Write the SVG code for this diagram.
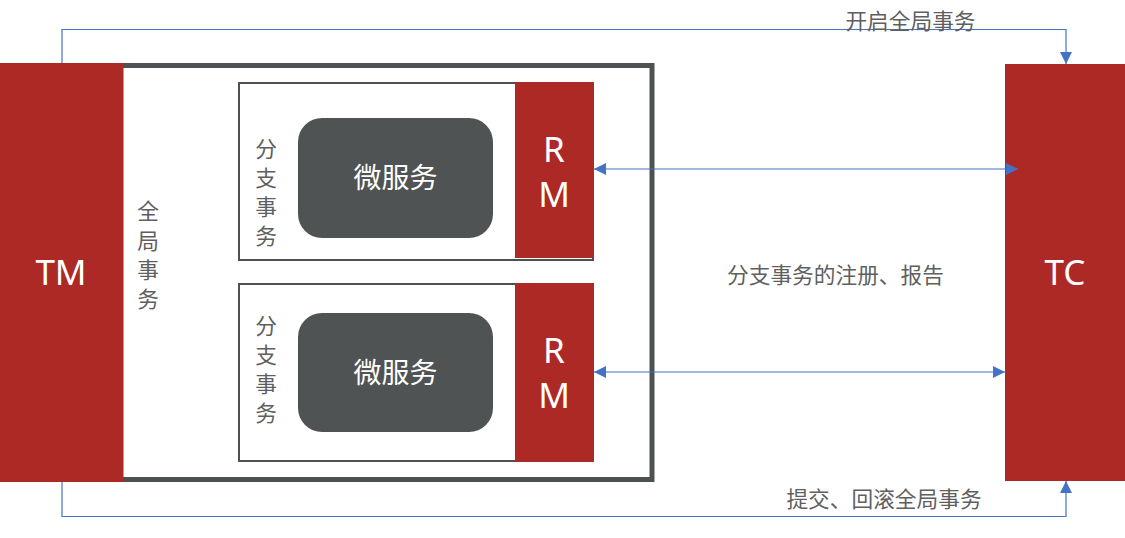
<svg xmlns="http://www.w3.org/2000/svg" width="1125" height="538" viewBox="0 0 1125 538">
<defs>
<marker id="arr" viewBox="0 0 12 12" refX="12" refY="6" markerWidth="12" markerHeight="12" markerUnits="userSpaceOnUse" orient="auto-start-reverse">
<path d="M0,0 L12,6 L0,12 z" fill="#4472C4"/>
</marker>
<style>
.red{fill:#AD2926}
.lbl{font-family:"Noto Sans","Noto Sans CJK SC",sans-serif;fill:#5F5F5F;font-size:21.7px}
.wt{font-family:"Noto Sans","Noto Sans CJK SC",sans-serif;fill:#ffffff}
.box{fill:#ffffff;stroke:#4D5152;stroke-width:2}
.ms{fill:#4F5354}
.conn{fill:none;stroke:#4472C4;stroke-width:1.2}
</style>
</defs>
<rect width="1125" height="538" fill="#ffffff"/>
<g id="global-tx">
<rect x="121" y="65.5" width="531" height="414" fill="#ffffff" stroke="#4D5152" stroke-width="5"/>
<text class="lbl" text-anchor="middle" font-size="22"><tspan x="148" y="219">全</tspan><tspan x="148" y="249">局</tspan><tspan x="148" y="278">事</tspan><tspan x="148" y="307">务</tspan></text>
</g>
<g id="TM">
<rect class="red" x="0" y="63" width="123" height="419"/>
<text class="wt" x="61" y="285" text-anchor="middle" font-size="35">TM</text>
</g>
<g id="TC">
<rect class="red" x="1005" y="64" width="120" height="417"/>
<text class="wt" x="1065" y="285" text-anchor="middle" font-size="35">TC</text>
</g>
<g id="branch1">
<rect class="box" x="239" y="83" width="354" height="177"/>
<text class="lbl" text-anchor="middle" font-size="22"><tspan x="266" y="157">分</tspan><tspan x="266" y="186">支</tspan><tspan x="266" y="215">事</tspan><tspan x="266" y="244">务</tspan></text>
<rect class="ms" x="298" y="118" width="195" height="120" rx="24"/>
<text class="wt" x="395.5" y="188" text-anchor="middle" font-size="28">微服务</text>
<rect class="red" x="515" y="82" width="79" height="176"/>
<text class="wt" text-anchor="middle" font-size="35"><tspan x="554" y="162">R</tspan><tspan x="554" y="207">M</tspan></text>
</g>
<g id="branch2">
<rect class="box" x="239" y="284" width="354" height="177"/>
<text class="lbl" text-anchor="middle" font-size="22"><tspan x="266" y="334">分</tspan><tspan x="266" y="363">支</tspan><tspan x="266" y="392">事</tspan><tspan x="266" y="421">务</tspan></text>
<rect class="ms" x="298" y="313" width="195" height="119" rx="24"/>
<text class="wt" x="395.5" y="383" text-anchor="middle" font-size="28">微服务</text>
<rect class="red" x="515" y="283" width="79" height="179"/>
<text class="wt" text-anchor="middle" font-size="35"><tspan x="554" y="363">R</tspan><tspan x="554" y="408">M</tspan></text>
</g>
<g id="connectors">
<path class="conn" d="M62,63 V29.5 H1066 V64" marker-end="url(#arr)"/>
<path class="conn" d="M62,482 V516.5 H1066 V481" marker-end="url(#arr)"/>
<path class="conn" d="M594,169 H1018" marker-start="url(#arr)" marker-end="url(#arr)"/>
<path class="conn" d="M594,372 H1005" marker-start="url(#arr)" marker-end="url(#arr)"/>
<text class="lbl" x="910.5" y="29" text-anchor="middle">开启全局事务</text>
<text class="lbl" x="835.5" y="283" text-anchor="middle">分支事务的注册、报告</text>
<text class="lbl" x="884" y="507" text-anchor="middle" font-size="22">提交、回滚全局事务</text>
</g>
</svg>
